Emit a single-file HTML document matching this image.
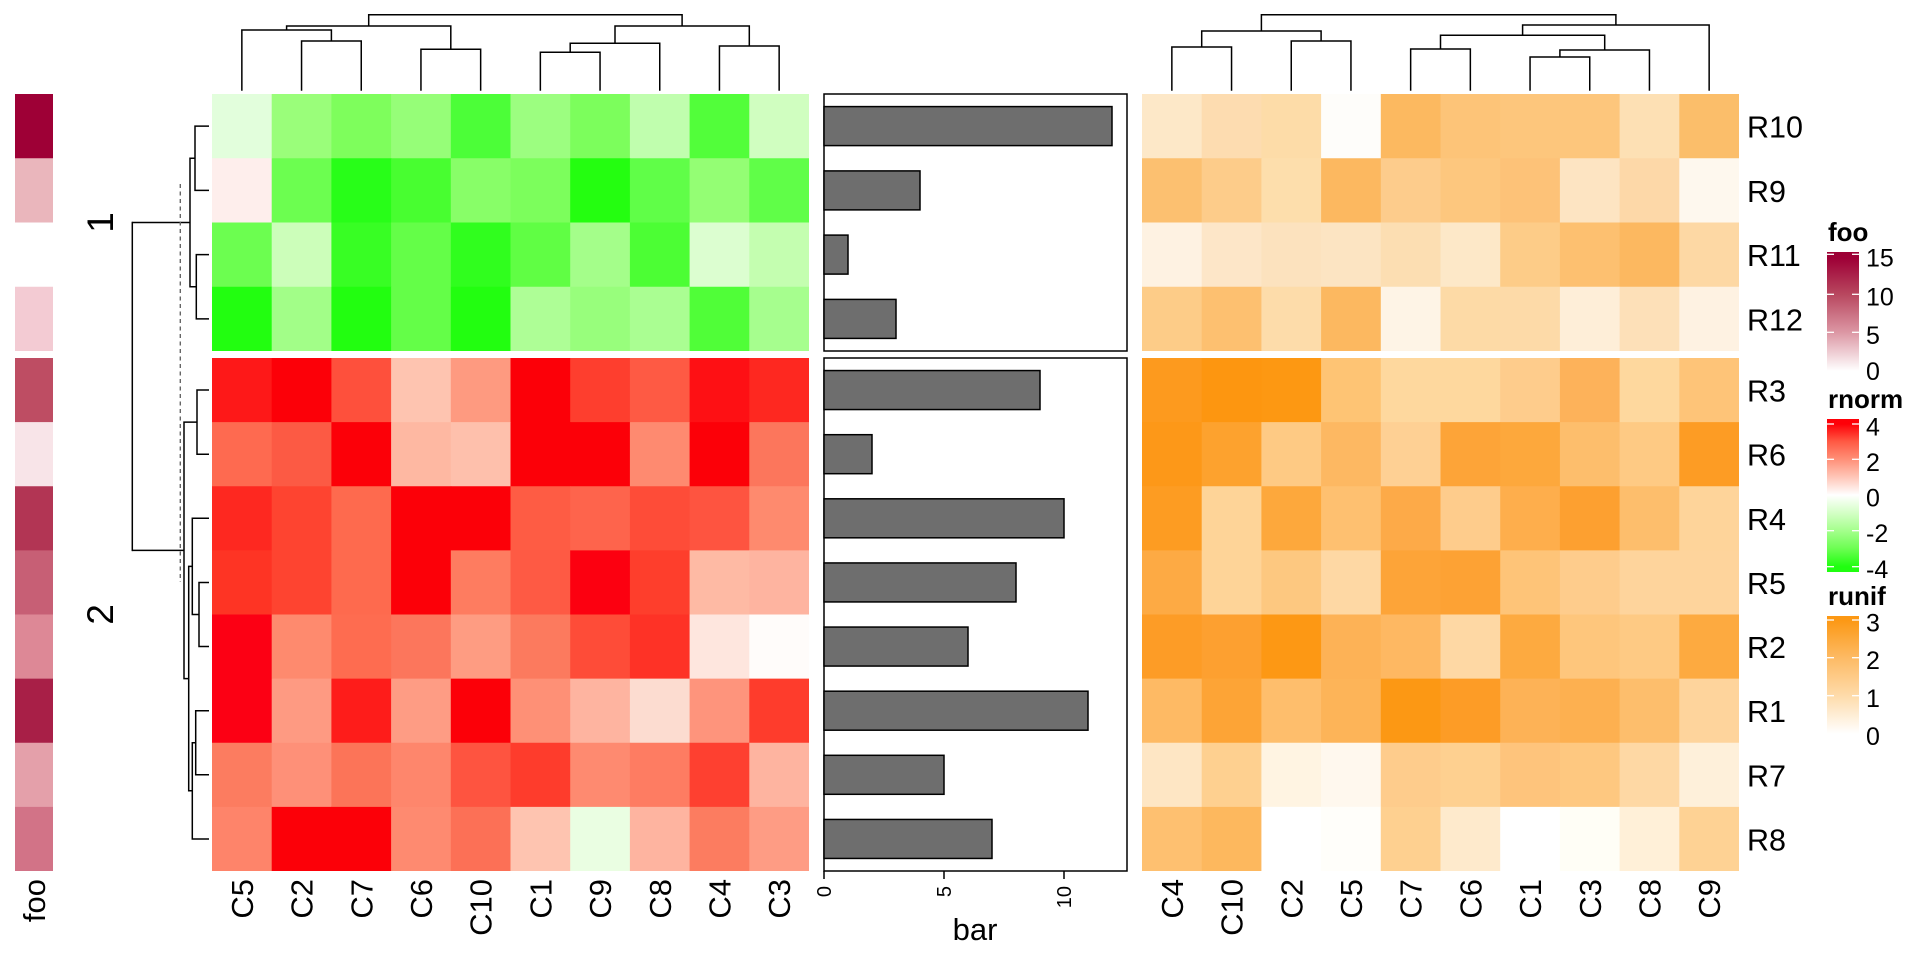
<!DOCTYPE html>
<html>
<head>
<meta charset="utf-8">
<style>
html,body{margin:0;padding:0;background:#fff;}
svg{display:block;}
text{font-family:"Liberation Sans",Arial,sans-serif;fill:#000;}
</style>
</head>
<body>
<svg width="1920" height="960" viewBox="0 0 1920 960" xmlns="http://www.w3.org/2000/svg">
<defs>
<linearGradient id="gfoo" x1="0" y1="0" x2="0" y2="1">
<stop offset="0" stop-color="#9C0034"/>
<stop offset="0.05" stop-color="#9E0036"/>
<stop offset="0.344" stop-color="#B8475F"/>
<stop offset="0.653" stop-color="#DC97A4"/>
<stop offset="0.967" stop-color="#FFFFFF"/>
<stop offset="1" stop-color="#FFFFFF"/>
</linearGradient>
<linearGradient id="grn" x1="0" y1="0" x2="0" y2="1">
<stop offset="0" stop-color="#FE0008"/>
<stop offset="0.033" stop-color="#FE0008"/>
<stop offset="0.149" stop-color="#FF5A44"/>
<stop offset="0.264" stop-color="#FF9078"/>
<stop offset="0.38" stop-color="#FFC6B8"/>
<stop offset="0.497" stop-color="#FFFFFF"/>
<stop offset="0.613" stop-color="#D4FFC6"/>
<stop offset="0.73" stop-color="#A4FF8C"/>
<stop offset="0.847" stop-color="#6CFE52"/>
<stop offset="0.965" stop-color="#20FE10"/>
<stop offset="1" stop-color="#20FE10"/>
</linearGradient>
<linearGradient id="gru" x1="0" y1="0" x2="0" y2="1">
<stop offset="0" stop-color="#FC9814"/>
<stop offset="0.033" stop-color="#FC9814"/>
<stop offset="0.342" stop-color="#FDBA64"/>
<stop offset="0.653" stop-color="#FEDBAA"/>
<stop offset="0.965" stop-color="#FFFFFF"/>
<stop offset="1" stop-color="#FFFFFF"/>
</linearGradient>
</defs>
<rect x="0" y="0" width="1920" height="960" fill="#fff"/>

<!-- foo annotation -->
<g>
<rect x="15" y="94" width="38" height="64.5" fill="#9E0036"/>
<rect x="15" y="158.25" width="38" height="64.5" fill="#EAB6BC"/>
<rect x="15" y="222.5" width="38" height="64.5" fill="#FFFFFF"/>
<rect x="15" y="286.75" width="38" height="64.25" fill="#F3CBD3"/>
<rect x="15" y="358" width="38" height="64.4" fill="#BE4D63"/>
<rect x="15" y="422.125" width="38" height="64.4" fill="#F8E4E8"/>
<rect x="15" y="486.25" width="38" height="64.4" fill="#B23554"/>
<rect x="15" y="550.375" width="38" height="64.4" fill="#C75F75"/>
<rect x="15" y="614.5" width="38" height="64.4" fill="#DD8896"/>
<rect x="15" y="678.625" width="38" height="64.4" fill="#A81F47"/>
<rect x="15" y="742.75" width="38" height="64.4" fill="#E4A0AA"/>
<rect x="15" y="806.875" width="38" height="64.125" fill="#D27387"/>
</g>
<text transform="translate(45,879) rotate(-90)" text-anchor="end" font-size="31">foo</text>

<!-- group titles -->
<text transform="translate(113,222.5) rotate(-90)" text-anchor="middle" font-size="37">1</text>
<text transform="translate(113,614.5) rotate(-90)" text-anchor="middle" font-size="37">2</text>

<!-- row dendrogram -->
<g fill="none" stroke="#000" stroke-width="1.5">
<path d="M209,126.1 H195 V190.4 H209"/>
<path d="M209,254.6 H196.3 V318.9 H209"/>
<path d="M195,158.25 H190 V286.75 H196.3"/>
<path d="M190,222.5 H132.3"/>
<path d="M209,390.06 H197 V454.19 H209"/>
<path d="M209,582.44 H199 V646.56 H209"/>
<path d="M209,518.31 H192.3 V614.5 H199"/>
<path d="M209,710.69 H195.7 V774.81 H209"/>
<path d="M209,838.94 H192.3 V742.75 H195.7"/>
<path d="M192.3,566.4 H188.7 V790.8 H192.3"/>
<path d="M197,422.1 H184 V678.6 H188.7"/>
<path d="M184,550.35 H132.3"/>
<path d="M132.3,221.75 V551.1"/>
</g>
<line x1="180.3" y1="184" x2="180.3" y2="582" stroke="#666" stroke-width="1.4" stroke-dasharray="4,3.5"/>

<!-- left column dendrogram -->
<g fill="none" stroke="#000" stroke-width="1.5">
<path d="M301.55,90.7 V41 H361.25 V90.7"/>
<path d="M241.85,90.7 V30 H331.4 V41"/>
<path d="M420.95,90.7 V49.3 H480.65 V90.7"/>
<path d="M286.6,30 V26 H450.8 V49.3"/>
<path d="M540.35,90.7 V52.3 H600.05 V90.7"/>
<path d="M570.2,52.3 V43.3 H659.75 V90.7"/>
<path d="M719.45,90.7 V46 H779.15 V90.7"/>
<path d="M615,43.3 V26 H749.3 V46"/>
<path d="M368.7,26 V14.7 H682.1 V26"/>
</g>

<!-- right column dendrogram -->
<g fill="none" stroke="#000" stroke-width="1.5">
<path d="M1171.85,90.7 V47 H1231.55 V90.7"/>
<path d="M1291.25,90.7 V41 H1350.95 V90.7"/>
<path d="M1201.7,47 V31 H1321.1 V41"/>
<path d="M1410.65,90.7 V49 H1470.35 V90.7"/>
<path d="M1530.05,90.7 V57 H1589.75 V90.7"/>
<path d="M1559.9,57 V50 H1649.45 V90.7"/>
<path d="M1440.5,49 V35.3 H1604.7 V50"/>
<path d="M1522.6,35.3 V25 H1709.15 V90.7"/>
<path d="M1261.4,31 V14.7 H1615.9 V25"/>
</g>

<!-- left heatmap top group -->
<g transform="translate(212,94)">
<g>
<rect x="0" y="0" width="60.2" height="64.75" fill="#E2FEDC"/>
<rect x="59.7" y="0" width="60.2" height="64.75" fill="#9AFE7A"/>
<rect x="119.4" y="0" width="60.2" height="64.75" fill="#7EFE5C"/>
<rect x="179.1" y="0" width="60.2" height="64.75" fill="#96FE78"/>
<rect x="238.8" y="0" width="60.2" height="64.75" fill="#4CFE38"/>
<rect x="298.5" y="0" width="60.2" height="64.75" fill="#9CFE80"/>
<rect x="358.2" y="0" width="60.2" height="64.75" fill="#7CFE5C"/>
<rect x="417.9" y="0" width="60.2" height="64.75" fill="#C0FEAE"/>
<rect x="477.6" y="0" width="60.2" height="64.75" fill="#52FE3A"/>
<rect x="537.3" y="0" width="59.7" height="64.75" fill="#D0FEC0"/>
</g>
<g>
<rect x="0" y="64.25" width="60.2" height="64.75" fill="#FEEEEC"/>
<rect x="59.7" y="64.25" width="60.2" height="64.75" fill="#6CFE50"/>
<rect x="119.4" y="64.25" width="60.2" height="64.75" fill="#28FE18"/>
<rect x="179.1" y="64.25" width="60.2" height="64.75" fill="#48FE30"/>
<rect x="238.8" y="64.25" width="60.2" height="64.75" fill="#88FE68"/>
<rect x="298.5" y="64.25" width="60.2" height="64.75" fill="#7CFE5C"/>
<rect x="358.2" y="64.25" width="60.2" height="64.75" fill="#24FE10"/>
<rect x="417.9" y="64.25" width="60.2" height="64.75" fill="#60FE48"/>
<rect x="477.6" y="64.25" width="60.2" height="64.75" fill="#94FE74"/>
<rect x="537.3" y="64.25" width="59.7" height="64.75" fill="#60FE48"/>
</g>
<g>
<rect x="0" y="128.5" width="60.2" height="64.75" fill="#6CFE50"/>
<rect x="59.7" y="128.5" width="60.2" height="64.75" fill="#CCFEBA"/>
<rect x="119.4" y="128.5" width="60.2" height="64.75" fill="#38FE24"/>
<rect x="179.1" y="128.5" width="60.2" height="64.75" fill="#64FE48"/>
<rect x="238.8" y="128.5" width="60.2" height="64.75" fill="#30FE1E"/>
<rect x="298.5" y="128.5" width="60.2" height="64.75" fill="#60FE44"/>
<rect x="358.2" y="128.5" width="60.2" height="64.75" fill="#A4FE8A"/>
<rect x="417.9" y="128.5" width="60.2" height="64.75" fill="#4CFE34"/>
<rect x="477.6" y="128.5" width="60.2" height="64.75" fill="#DCFED0"/>
<rect x="537.3" y="128.5" width="59.7" height="64.75" fill="#C4FEB0"/>
</g>
<g>
<rect x="0" y="192.75" width="60.2" height="64.25" fill="#22FE10"/>
<rect x="59.7" y="192.75" width="60.2" height="64.25" fill="#A2FE88"/>
<rect x="119.4" y="192.75" width="60.2" height="64.25" fill="#22FE10"/>
<rect x="179.1" y="192.75" width="60.2" height="64.25" fill="#64FE48"/>
<rect x="238.8" y="192.75" width="60.2" height="64.25" fill="#22FE10"/>
<rect x="298.5" y="192.75" width="60.2" height="64.25" fill="#AEFE96"/>
<rect x="358.2" y="192.75" width="60.2" height="64.25" fill="#98FE7C"/>
<rect x="417.9" y="192.75" width="60.2" height="64.25" fill="#AAFE92"/>
<rect x="477.6" y="192.75" width="60.2" height="64.25" fill="#50FE38"/>
<rect x="537.3" y="192.75" width="59.7" height="64.25" fill="#A6FE8E"/>
</g>
</g>

<!-- left heatmap bottom group -->
<g transform="translate(212,358)">
<g>
<rect x="0" y="0" width="60.2" height="64.6" fill="#FE1818"/>
<rect x="59.7" y="0" width="60.2" height="64.6" fill="#FC0008"/>
<rect x="119.4" y="0" width="60.2" height="64.6" fill="#FE503C"/>
<rect x="179.1" y="0" width="60.2" height="64.6" fill="#FEC4B0"/>
<rect x="238.8" y="0" width="60.2" height="64.6" fill="#FE9A80"/>
<rect x="298.5" y="0" width="60.2" height="64.6" fill="#FC0008"/>
<rect x="358.2" y="0" width="60.2" height="64.6" fill="#FE3E2E"/>
<rect x="417.9" y="0" width="60.2" height="64.6" fill="#FE5A44"/>
<rect x="477.6" y="0" width="60.2" height="64.6" fill="#FE1014"/>
<rect x="537.3" y="0" width="59.7" height="64.6" fill="#FE2820"/>
</g>
<g>
<rect x="0" y="64.125" width="60.2" height="64.6" fill="#FE6A50"/>
<rect x="59.7" y="64.125" width="60.2" height="64.6" fill="#FC5A44"/>
<rect x="119.4" y="64.125" width="60.2" height="64.6" fill="#FC0008"/>
<rect x="179.1" y="64.125" width="60.2" height="64.6" fill="#FEB8A2"/>
<rect x="238.8" y="64.125" width="60.2" height="64.6" fill="#FEC0AC"/>
<rect x="298.5" y="64.125" width="60.2" height="64.6" fill="#FC0008"/>
<rect x="358.2" y="64.125" width="60.2" height="64.6" fill="#FC0008"/>
<rect x="417.9" y="64.125" width="60.2" height="64.6" fill="#FE8A70"/>
<rect x="477.6" y="64.125" width="60.2" height="64.6" fill="#FC0008"/>
<rect x="537.3" y="64.125" width="59.7" height="64.6" fill="#FC765C"/>
</g>
<g>
<rect x="0" y="128.25" width="60.2" height="64.6" fill="#FE2820"/>
<rect x="59.7" y="128.25" width="60.2" height="64.6" fill="#FE4430"/>
<rect x="119.4" y="128.25" width="60.2" height="64.6" fill="#FE6A4E"/>
<rect x="179.1" y="128.25" width="60.2" height="64.6" fill="#FC0008"/>
<rect x="238.8" y="128.25" width="60.2" height="64.6" fill="#FC0008"/>
<rect x="298.5" y="128.25" width="60.2" height="64.6" fill="#FE5C44"/>
<rect x="358.2" y="128.25" width="60.2" height="64.6" fill="#FE644C"/>
<rect x="417.9" y="128.25" width="60.2" height="64.6" fill="#FE4C38"/>
<rect x="477.6" y="128.25" width="60.2" height="64.6" fill="#FE5440"/>
<rect x="537.3" y="128.25" width="59.7" height="64.6" fill="#FE8A6E"/>
</g>
<g>
<rect x="0" y="192.375" width="60.2" height="64.6" fill="#FE3424"/>
<rect x="59.7" y="192.375" width="60.2" height="64.6" fill="#FE4430"/>
<rect x="119.4" y="192.375" width="60.2" height="64.6" fill="#FE6A4E"/>
<rect x="179.1" y="192.375" width="60.2" height="64.6" fill="#FC0008"/>
<rect x="238.8" y="192.375" width="60.2" height="64.6" fill="#FE7C60"/>
<rect x="298.5" y="192.375" width="60.2" height="64.6" fill="#FE5A44"/>
<rect x="358.2" y="192.375" width="60.2" height="64.6" fill="#FC0010"/>
<rect x="417.9" y="192.375" width="60.2" height="64.6" fill="#FE3E2C"/>
<rect x="477.6" y="192.375" width="60.2" height="64.6" fill="#FEBAA4"/>
<rect x="537.3" y="192.375" width="59.7" height="64.6" fill="#FEB4A0"/>
</g>
<g>
<rect x="0" y="256.5" width="60.2" height="64.6" fill="#FC0014"/>
<rect x="59.7" y="256.5" width="60.2" height="64.6" fill="#FE8A6E"/>
<rect x="119.4" y="256.5" width="60.2" height="64.6" fill="#FE6C50"/>
<rect x="179.1" y="256.5" width="60.2" height="64.6" fill="#FC765C"/>
<rect x="238.8" y="256.5" width="60.2" height="64.6" fill="#FE9C82"/>
<rect x="298.5" y="256.5" width="60.2" height="64.6" fill="#FC7A5E"/>
<rect x="358.2" y="256.5" width="60.2" height="64.6" fill="#FE4C38"/>
<rect x="417.9" y="256.5" width="60.2" height="64.6" fill="#FE3226"/>
<rect x="477.6" y="256.5" width="60.2" height="64.6" fill="#FEE6DE"/>
<rect x="537.3" y="256.5" width="59.7" height="64.6" fill="#FFFCFA"/>
</g>
<g>
<rect x="0" y="320.625" width="60.2" height="64.6" fill="#FC0014"/>
<rect x="59.7" y="320.625" width="60.2" height="64.6" fill="#FE9A82"/>
<rect x="119.4" y="320.625" width="60.2" height="64.6" fill="#FE1C1A"/>
<rect x="179.1" y="320.625" width="60.2" height="64.6" fill="#FE9C84"/>
<rect x="238.8" y="320.625" width="60.2" height="64.6" fill="#FC0008"/>
<rect x="298.5" y="320.625" width="60.2" height="64.6" fill="#FE9076"/>
<rect x="358.2" y="320.625" width="60.2" height="64.6" fill="#FEB4A0"/>
<rect x="417.9" y="320.625" width="60.2" height="64.6" fill="#FCDCD0"/>
<rect x="477.6" y="320.625" width="60.2" height="64.6" fill="#FE947C"/>
<rect x="537.3" y="320.625" width="59.7" height="64.6" fill="#FE3C2C"/>
</g>
<g>
<rect x="0" y="384.75" width="60.2" height="64.6" fill="#FC7C60"/>
<rect x="59.7" y="384.75" width="60.2" height="64.6" fill="#FE9078"/>
<rect x="119.4" y="384.75" width="60.2" height="64.6" fill="#FC7458"/>
<rect x="179.1" y="384.75" width="60.2" height="64.6" fill="#FE866C"/>
<rect x="238.8" y="384.75" width="60.2" height="64.6" fill="#FE5440"/>
<rect x="298.5" y="384.75" width="60.2" height="64.6" fill="#FE3C2C"/>
<rect x="358.2" y="384.75" width="60.2" height="64.6" fill="#FE8A70"/>
<rect x="417.9" y="384.75" width="60.2" height="64.6" fill="#FE7C62"/>
<rect x="477.6" y="384.75" width="60.2" height="64.6" fill="#FE4030"/>
<rect x="537.3" y="384.75" width="59.7" height="64.6" fill="#FEB4A0"/>
</g>
<g>
<rect x="0" y="448.875" width="60.2" height="64.125" fill="#FE846A"/>
<rect x="59.7" y="448.875" width="60.2" height="64.125" fill="#FC0008"/>
<rect x="119.4" y="448.875" width="60.2" height="64.125" fill="#FC0008"/>
<rect x="179.1" y="448.875" width="60.2" height="64.125" fill="#FE8A70"/>
<rect x="238.8" y="448.875" width="60.2" height="64.125" fill="#FC7056"/>
<rect x="298.5" y="448.875" width="60.2" height="64.125" fill="#FEC4B0"/>
<rect x="358.2" y="448.875" width="60.2" height="64.125" fill="#EAFEE2"/>
<rect x="417.9" y="448.875" width="60.2" height="64.125" fill="#FEB4A0"/>
<rect x="477.6" y="448.875" width="60.2" height="64.125" fill="#FC7C60"/>
<rect x="537.3" y="448.875" width="59.7" height="64.125" fill="#FE9C84"/>
</g>
</g>

<!-- left column labels -->
<g font-size="31" text-anchor="end">
<text transform="translate(252.85,879) rotate(-90)">C5</text>
<text transform="translate(312.55,879) rotate(-90)">C2</text>
<text transform="translate(372.25,879) rotate(-90)">C7</text>
<text transform="translate(431.95,879) rotate(-90)">C6</text>
<text transform="translate(491.65,879) rotate(-90)">C10</text>
<text transform="translate(551.35,879) rotate(-90)">C1</text>
<text transform="translate(611.05,879) rotate(-90)">C9</text>
<text transform="translate(670.75,879) rotate(-90)">C8</text>
<text transform="translate(730.45,879) rotate(-90)">C4</text>
<text transform="translate(790.15,879) rotate(-90)">C3</text>
</g>

<!-- bar annotation -->
<g fill="none" stroke="#000" stroke-width="1.5">
<rect x="824" y="94" width="303" height="257"/>
<rect x="824" y="358" width="303" height="513"/>
</g>
<g fill="#6E6E6E" stroke="#000" stroke-width="1.5">
<rect x="824" y="106.6" width="288" height="39"/>
<rect x="824" y="170.9" width="96" height="39"/>
<rect x="824" y="235.1" width="24" height="39"/>
<rect x="824" y="299.4" width="72" height="39"/>
<rect x="824" y="370.56" width="216" height="39"/>
<rect x="824" y="434.69" width="48" height="39"/>
<rect x="824" y="498.81" width="240" height="39"/>
<rect x="824" y="562.94" width="192" height="39"/>
<rect x="824" y="627.06" width="144" height="39"/>
<rect x="824" y="691.19" width="264" height="39"/>
<rect x="824" y="755.31" width="120" height="39"/>
<rect x="824" y="819.44" width="168" height="39"/>
</g>
<g stroke="#000" stroke-width="1.5">
<line x1="824" y1="871" x2="824" y2="879"/>
<line x1="944" y1="871" x2="944" y2="879"/>
<line x1="1064" y1="871" x2="1064" y2="879"/>
</g>
<g font-size="20" text-anchor="end">
<text transform="translate(831.2,886) rotate(-90)">0</text>
<text transform="translate(951.2,886) rotate(-90)">5</text>
<text transform="translate(1071.2,886) rotate(-90)">10</text>
</g>
<text x="975" y="940" font-size="31" text-anchor="middle">bar</text>

<!-- right heatmap top group -->
<g transform="translate(1142,94)">
<g>
<rect x="0" y="0" width="60.2" height="64.75" fill="#FDE8C8"/>
<rect x="59.7" y="0" width="60.2" height="64.75" fill="#FDDCB0"/>
<rect x="119.4" y="0" width="60.2" height="64.75" fill="#FDDCA8"/>
<rect x="179.1" y="0" width="60.2" height="64.75" fill="#FEFDFA"/>
<rect x="238.8" y="0" width="60.2" height="64.75" fill="#FCB960"/>
<rect x="298.5" y="0" width="60.2" height="64.75" fill="#FDC478"/>
<rect x="358.2" y="0" width="60.2" height="64.75" fill="#FDC67C"/>
<rect x="417.9" y="0" width="60.2" height="64.75" fill="#FDC67C"/>
<rect x="477.6" y="0" width="60.2" height="64.75" fill="#FDE0B4"/>
<rect x="537.3" y="0" width="59.7" height="64.75" fill="#FBBE6A"/>
</g>
<g>
<rect x="0" y="64.25" width="60.2" height="64.75" fill="#FCC070"/>
<rect x="59.7" y="64.25" width="60.2" height="64.75" fill="#FDCC8A"/>
<rect x="119.4" y="64.25" width="60.2" height="64.75" fill="#FDDEAC"/>
<rect x="179.1" y="64.25" width="60.2" height="64.75" fill="#FCB860"/>
<rect x="238.8" y="64.25" width="60.2" height="64.75" fill="#FDCC8C"/>
<rect x="298.5" y="64.25" width="60.2" height="64.75" fill="#FDC77E"/>
<rect x="358.2" y="64.25" width="60.2" height="64.75" fill="#FDC278"/>
<rect x="417.9" y="64.25" width="60.2" height="64.75" fill="#FDE4C2"/>
<rect x="477.6" y="64.25" width="60.2" height="64.75" fill="#FDD8A8"/>
<rect x="537.3" y="64.25" width="59.7" height="64.75" fill="#FEF8EE"/>
</g>
<g>
<rect x="0" y="128.5" width="60.2" height="64.75" fill="#FEF2E2"/>
<rect x="59.7" y="128.5" width="60.2" height="64.75" fill="#FDE6C8"/>
<rect x="119.4" y="128.5" width="60.2" height="64.75" fill="#FCE2BE"/>
<rect x="179.1" y="128.5" width="60.2" height="64.75" fill="#FCE4C2"/>
<rect x="238.8" y="128.5" width="60.2" height="64.75" fill="#FCDEB2"/>
<rect x="298.5" y="128.5" width="60.2" height="64.75" fill="#FDE8C8"/>
<rect x="358.2" y="128.5" width="60.2" height="64.75" fill="#FDCC88"/>
<rect x="417.9" y="128.5" width="60.2" height="64.75" fill="#FDC070"/>
<rect x="477.6" y="128.5" width="60.2" height="64.75" fill="#FCB860"/>
<rect x="537.3" y="128.5" width="59.7" height="64.75" fill="#FDD8A4"/>
</g>
<g>
<rect x="0" y="192.75" width="60.2" height="64.25" fill="#FDCC88"/>
<rect x="59.7" y="192.75" width="60.2" height="64.25" fill="#FDC070"/>
<rect x="119.4" y="192.75" width="60.2" height="64.25" fill="#FDDCAA"/>
<rect x="179.1" y="192.75" width="60.2" height="64.25" fill="#FCB860"/>
<rect x="238.8" y="192.75" width="60.2" height="64.25" fill="#FEF4E6"/>
<rect x="298.5" y="192.75" width="60.2" height="64.25" fill="#FDDAA6"/>
<rect x="358.2" y="192.75" width="60.2" height="64.25" fill="#FDDAA8"/>
<rect x="417.9" y="192.75" width="60.2" height="64.25" fill="#FEEED8"/>
<rect x="477.6" y="192.75" width="60.2" height="64.25" fill="#FDE0B8"/>
<rect x="537.3" y="192.75" width="59.7" height="64.25" fill="#FEF2E2"/>
</g>
</g>

<!-- right heatmap bottom group -->
<g transform="translate(1142,358)">
<g>
<rect x="0" y="0" width="60.2" height="64.6" fill="#FD9A1E"/>
<rect x="59.7" y="0" width="60.2" height="64.6" fill="#FD9610"/>
<rect x="119.4" y="0" width="60.2" height="64.6" fill="#FD9812"/>
<rect x="179.1" y="0" width="60.2" height="64.6" fill="#FEC474"/>
<rect x="238.8" y="0" width="60.2" height="64.6" fill="#FED89E"/>
<rect x="298.5" y="0" width="60.2" height="64.6" fill="#FED89E"/>
<rect x="358.2" y="0" width="60.2" height="64.6" fill="#FECC8C"/>
<rect x="417.9" y="0" width="60.2" height="64.6" fill="#FDB25A"/>
<rect x="477.6" y="0" width="60.2" height="64.6" fill="#FED89E"/>
<rect x="537.3" y="0" width="59.7" height="64.6" fill="#FEC478"/>
</g>
<g>
<rect x="0" y="64.125" width="60.2" height="64.6" fill="#FD9818"/>
<rect x="59.7" y="64.125" width="60.2" height="64.6" fill="#FDA22E"/>
<rect x="119.4" y="64.125" width="60.2" height="64.6" fill="#FECA84"/>
<rect x="179.1" y="64.125" width="60.2" height="64.6" fill="#FDB862"/>
<rect x="238.8" y="64.125" width="60.2" height="64.6" fill="#FED094"/>
<rect x="298.5" y="64.125" width="60.2" height="64.6" fill="#FDA438"/>
<rect x="358.2" y="64.125" width="60.2" height="64.6" fill="#FDA83C"/>
<rect x="417.9" y="64.125" width="60.2" height="64.6" fill="#FDBE6C"/>
<rect x="477.6" y="64.125" width="60.2" height="64.6" fill="#FECA84"/>
<rect x="537.3" y="64.125" width="59.7" height="64.6" fill="#FD9C24"/>
</g>
<g>
<rect x="0" y="128.25" width="60.2" height="64.6" fill="#FD9C22"/>
<rect x="59.7" y="128.25" width="60.2" height="64.6" fill="#FED498"/>
<rect x="119.4" y="128.25" width="60.2" height="64.6" fill="#FDA83C"/>
<rect x="179.1" y="128.25" width="60.2" height="64.6" fill="#FEC070"/>
<rect x="238.8" y="128.25" width="60.2" height="64.6" fill="#FDAA48"/>
<rect x="298.5" y="128.25" width="60.2" height="64.6" fill="#FECC8C"/>
<rect x="358.2" y="128.25" width="60.2" height="64.6" fill="#FEAE4C"/>
<rect x="417.9" y="128.25" width="60.2" height="64.6" fill="#FDA030"/>
<rect x="477.6" y="128.25" width="60.2" height="64.6" fill="#FDBE6C"/>
<rect x="537.3" y="128.25" width="59.7" height="64.6" fill="#FED49A"/>
</g>
<g>
<rect x="0" y="192.375" width="60.2" height="64.6" fill="#FDAA44"/>
<rect x="59.7" y="192.375" width="60.2" height="64.6" fill="#FED498"/>
<rect x="119.4" y="192.375" width="60.2" height="64.6" fill="#FDC880"/>
<rect x="179.1" y="192.375" width="60.2" height="64.6" fill="#FED8A4"/>
<rect x="238.8" y="192.375" width="60.2" height="64.6" fill="#FDA438"/>
<rect x="298.5" y="192.375" width="60.2" height="64.6" fill="#FDA234"/>
<rect x="358.2" y="192.375" width="60.2" height="64.6" fill="#FEC478"/>
<rect x="417.9" y="192.375" width="60.2" height="64.6" fill="#FECC8C"/>
<rect x="477.6" y="192.375" width="60.2" height="64.6" fill="#FED49C"/>
<rect x="537.3" y="192.375" width="59.7" height="64.6" fill="#FED49C"/>
</g>
<g>
<rect x="0" y="256.5" width="60.2" height="64.6" fill="#FD9C26"/>
<rect x="59.7" y="256.5" width="60.2" height="64.6" fill="#FDA030"/>
<rect x="119.4" y="256.5" width="60.2" height="64.6" fill="#FD9814"/>
<rect x="179.1" y="256.5" width="60.2" height="64.6" fill="#FDB256"/>
<rect x="238.8" y="256.5" width="60.2" height="64.6" fill="#FEB862"/>
<rect x="298.5" y="256.5" width="60.2" height="64.6" fill="#FED8A4"/>
<rect x="358.2" y="256.5" width="60.2" height="64.6" fill="#FDAA40"/>
<rect x="417.9" y="256.5" width="60.2" height="64.6" fill="#FEC67C"/>
<rect x="477.6" y="256.5" width="60.2" height="64.6" fill="#FECA84"/>
<rect x="537.3" y="256.5" width="59.7" height="64.6" fill="#FDAA40"/>
</g>
<g>
<rect x="0" y="320.625" width="60.2" height="64.6" fill="#FEBA64"/>
<rect x="59.7" y="320.625" width="60.2" height="64.6" fill="#FDA436"/>
<rect x="119.4" y="320.625" width="60.2" height="64.6" fill="#FEBE6C"/>
<rect x="179.1" y="320.625" width="60.2" height="64.6" fill="#FDB458"/>
<rect x="238.8" y="320.625" width="60.2" height="64.6" fill="#FC9814"/>
<rect x="298.5" y="320.625" width="60.2" height="64.6" fill="#FD9C26"/>
<rect x="358.2" y="320.625" width="60.2" height="64.6" fill="#FDB256"/>
<rect x="417.9" y="320.625" width="60.2" height="64.6" fill="#FDB050"/>
<rect x="477.6" y="320.625" width="60.2" height="64.6" fill="#FDBE6C"/>
<rect x="537.3" y="320.625" width="59.7" height="64.6" fill="#FED49C"/>
</g>
<g>
<rect x="0" y="384.75" width="60.2" height="64.6" fill="#FEE6C4"/>
<rect x="59.7" y="384.75" width="60.2" height="64.6" fill="#FED090"/>
<rect x="119.4" y="384.75" width="60.2" height="64.6" fill="#FFF4E2"/>
<rect x="179.1" y="384.75" width="60.2" height="64.6" fill="#FFF8EE"/>
<rect x="238.8" y="384.75" width="60.2" height="64.6" fill="#FECC8C"/>
<rect x="298.5" y="384.75" width="60.2" height="64.6" fill="#FED090"/>
<rect x="358.2" y="384.75" width="60.2" height="64.6" fill="#FEC47C"/>
<rect x="417.9" y="384.75" width="60.2" height="64.6" fill="#FEC880"/>
<rect x="477.6" y="384.75" width="60.2" height="64.6" fill="#FED8A4"/>
<rect x="537.3" y="384.75" width="59.7" height="64.6" fill="#FEF0DA"/>
</g>
<g>
<rect x="0" y="448.875" width="60.2" height="64.125" fill="#FEC070"/>
<rect x="59.7" y="448.875" width="60.2" height="64.125" fill="#FDB85E"/>
<rect x="119.4" y="448.875" width="60.2" height="64.125" fill="#FFFFFF"/>
<rect x="179.1" y="448.875" width="60.2" height="64.125" fill="#FFFEFA"/>
<rect x="238.8" y="448.875" width="60.2" height="64.125" fill="#FED090"/>
<rect x="298.5" y="448.875" width="60.2" height="64.125" fill="#FEEACC"/>
<rect x="358.2" y="448.875" width="60.2" height="64.125" fill="#FFFFFF"/>
<rect x="417.9" y="448.875" width="60.2" height="64.125" fill="#FFFEF6"/>
<rect x="477.6" y="448.875" width="60.2" height="64.125" fill="#FFF0D8"/>
<rect x="537.3" y="448.875" width="59.7" height="64.125" fill="#FED294"/>
</g>
</g>

<!-- right column labels -->
<g font-size="31" text-anchor="end">
<text transform="translate(1182.85,879) rotate(-90)">C4</text>
<text transform="translate(1242.55,879) rotate(-90)">C10</text>
<text transform="translate(1302.25,879) rotate(-90)">C2</text>
<text transform="translate(1361.95,879) rotate(-90)">C5</text>
<text transform="translate(1421.65,879) rotate(-90)">C7</text>
<text transform="translate(1481.35,879) rotate(-90)">C6</text>
<text transform="translate(1541.05,879) rotate(-90)">C1</text>
<text transform="translate(1600.75,879) rotate(-90)">C3</text>
<text transform="translate(1660.45,879) rotate(-90)">C8</text>
<text transform="translate(1720.15,879) rotate(-90)">C9</text>
</g>

<!-- row labels -->
<g font-size="30.5">
<text x="1747" y="137.6">R10</text>
<text x="1747" y="201.9">R9</text>
<text x="1747" y="266.1">R11</text>
<text x="1747" y="330.4">R12</text>
<text x="1747" y="401.6">R3</text>
<text x="1747" y="465.7">R6</text>
<text x="1747" y="529.8">R4</text>
<text x="1747" y="593.9">R5</text>
<text x="1747" y="658.1">R2</text>
<text x="1747" y="722.2">R1</text>
<text x="1747" y="786.3">R7</text>
<text x="1747" y="850.4">R8</text>
</g>

<!-- legends -->
<text x="1828" y="241" font-size="26" font-weight="bold">foo</text>
<rect x="1827" y="252" width="32" height="123" fill="url(#gfoo)"/>
<g stroke="#fff" stroke-width="1.3">
<line x1="1827" y1="254.3" x2="1834" y2="254.3"/><line x1="1852" y1="254.3" x2="1859" y2="254.3"/>
<line x1="1827" y1="294.3" x2="1834" y2="294.3"/><line x1="1852" y1="294.3" x2="1859" y2="294.3"/>
<line x1="1827" y1="332.3" x2="1834" y2="332.3"/><line x1="1852" y1="332.3" x2="1859" y2="332.3"/>
</g>
<g font-size="25">
<text x="1866" y="266.5">15</text>
<text x="1866" y="305.5">10</text>
<text x="1866" y="344">5</text>
<text x="1866" y="380">0</text>
</g>

<text x="1828" y="408" font-size="26" font-weight="bold">rnorm</text>
<rect x="1827" y="419" width="32" height="153" fill="url(#grn)"/>
<g stroke="#fff" stroke-width="1.3">
<line x1="1827" y1="424" x2="1834" y2="424"/><line x1="1852" y1="424" x2="1859" y2="424"/>
<line x1="1827" y1="459.3" x2="1834" y2="459.3"/><line x1="1852" y1="459.3" x2="1859" y2="459.3"/>
<line x1="1827" y1="495" x2="1834" y2="495"/><line x1="1852" y1="495" x2="1859" y2="495"/>
<line x1="1827" y1="530.7" x2="1834" y2="530.7"/><line x1="1852" y1="530.7" x2="1859" y2="530.7"/>
<line x1="1827" y1="566.7" x2="1834" y2="566.7"/><line x1="1852" y1="566.7" x2="1859" y2="566.7"/>
</g>
<g font-size="25">
<text x="1866" y="435.5">4</text>
<text x="1866" y="471">2</text>
<text x="1866" y="506.5">0</text>
<text x="1866" y="542">-2</text>
<text x="1866" y="578">-4</text>
</g>

<text x="1828" y="605" font-size="26" font-weight="bold">runif</text>
<rect x="1827" y="616" width="32" height="122" fill="url(#gru)"/>
<g stroke="#fff" stroke-width="1.3">
<line x1="1827" y1="620" x2="1834" y2="620"/><line x1="1852" y1="620" x2="1859" y2="620"/>
<line x1="1827" y1="657.7" x2="1834" y2="657.7"/><line x1="1852" y1="657.7" x2="1859" y2="657.7"/>
<line x1="1827" y1="695.7" x2="1834" y2="695.7"/><line x1="1852" y1="695.7" x2="1859" y2="695.7"/>
</g>
<g font-size="25">
<text x="1866" y="631.5">3</text>
<text x="1866" y="669">2</text>
<text x="1866" y="707">1</text>
<text x="1866" y="745">0</text>
</g>
</svg>
</body>
</html>
